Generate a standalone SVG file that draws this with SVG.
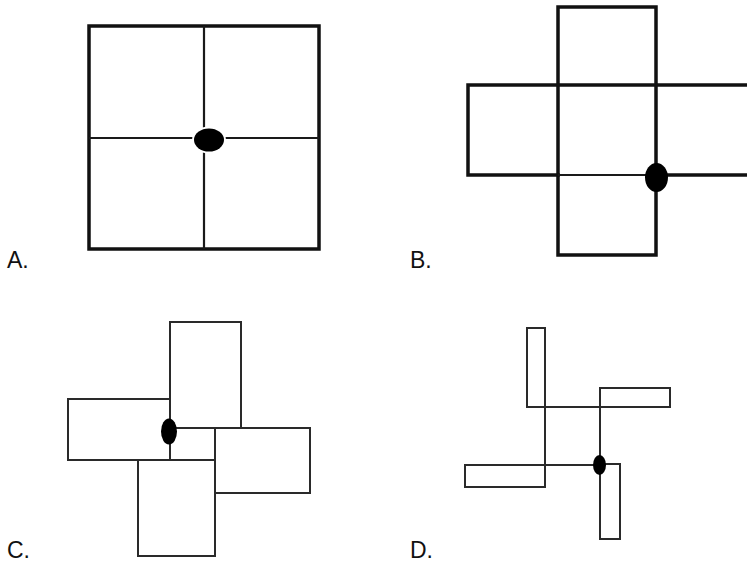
<svg xmlns="http://www.w3.org/2000/svg" width="747" height="563" viewBox="0 0 747 563">
<style>
.thick{fill:none;stroke:#111;stroke-width:3.5;stroke-linecap:square}
.mid{fill:none;stroke:#1a1a1a;stroke-width:2.2}
.thin{fill:none;stroke:#2a2a2a;stroke-width:2;stroke-linecap:square}
.dot{fill:#000}
.lbl{font-family:"Liberation Sans",Arial,sans-serif;font-size:23px;fill:#111}
</style>
<rect width="747" height="563" fill="#fff"/>
<g id="panelA">
<rect class="thick" x="89" y="26" width="230" height="223"/>
<line class="mid" x1="89" y1="138" x2="319" y2="138"/>
<line class="mid" x1="204" y1="26" x2="204" y2="249"/>
<ellipse class="dot" cx="209" cy="140" rx="15" ry="11.5" stroke="#fff" stroke-width="4"/>
<ellipse class="dot" cx="209" cy="140" rx="15" ry="11.5"/>
<text class="lbl" x="7" y="268">A.</text>
</g>
<g id="panelB">
<path class="thick" d="M558,255 V7 H656 V255 Z"/>
<path class="thick" d="M747,85 H468 V175 H558"/>
<line class="mid" x1="558" y1="175" x2="656" y2="175"/>
<line class="thick" x1="656" y1="175" x2="747" y2="175"/>
<ellipse class="dot" cx="656.5" cy="177.5" rx="11.5" ry="14.5"/>
<text class="lbl" x="410" y="268">B.</text>
</g>
<g id="panelC">
<path class="thin" d="M170,460 V322 H241 V428"/>
<path class="thin" d="M170,428 H310 V493 H215"/>
<path class="thin" d="M215,428 V556 H138 V460"/>
<path class="thin" d="M215,460 H68 V399 H170"/>
<ellipse class="dot" cx="169" cy="431.5" rx="8" ry="13"/>
<text class="lbl" x="7" y="558">C.</text>
</g>
<g id="panelD">
<path class="thin" d="M545,466 V328 H527 V407 H670 V388 H600 V465"/>
<path class="thin" d="M600,465 H465 V487 H545 V466"/>
<path class="thin" d="M600,465 V539 H620 V464 H600"/>
<ellipse class="dot" cx="599.5" cy="465" rx="6.5" ry="10"/>
<text class="lbl" x="410" y="558">D.</text>
</g>
</svg>
